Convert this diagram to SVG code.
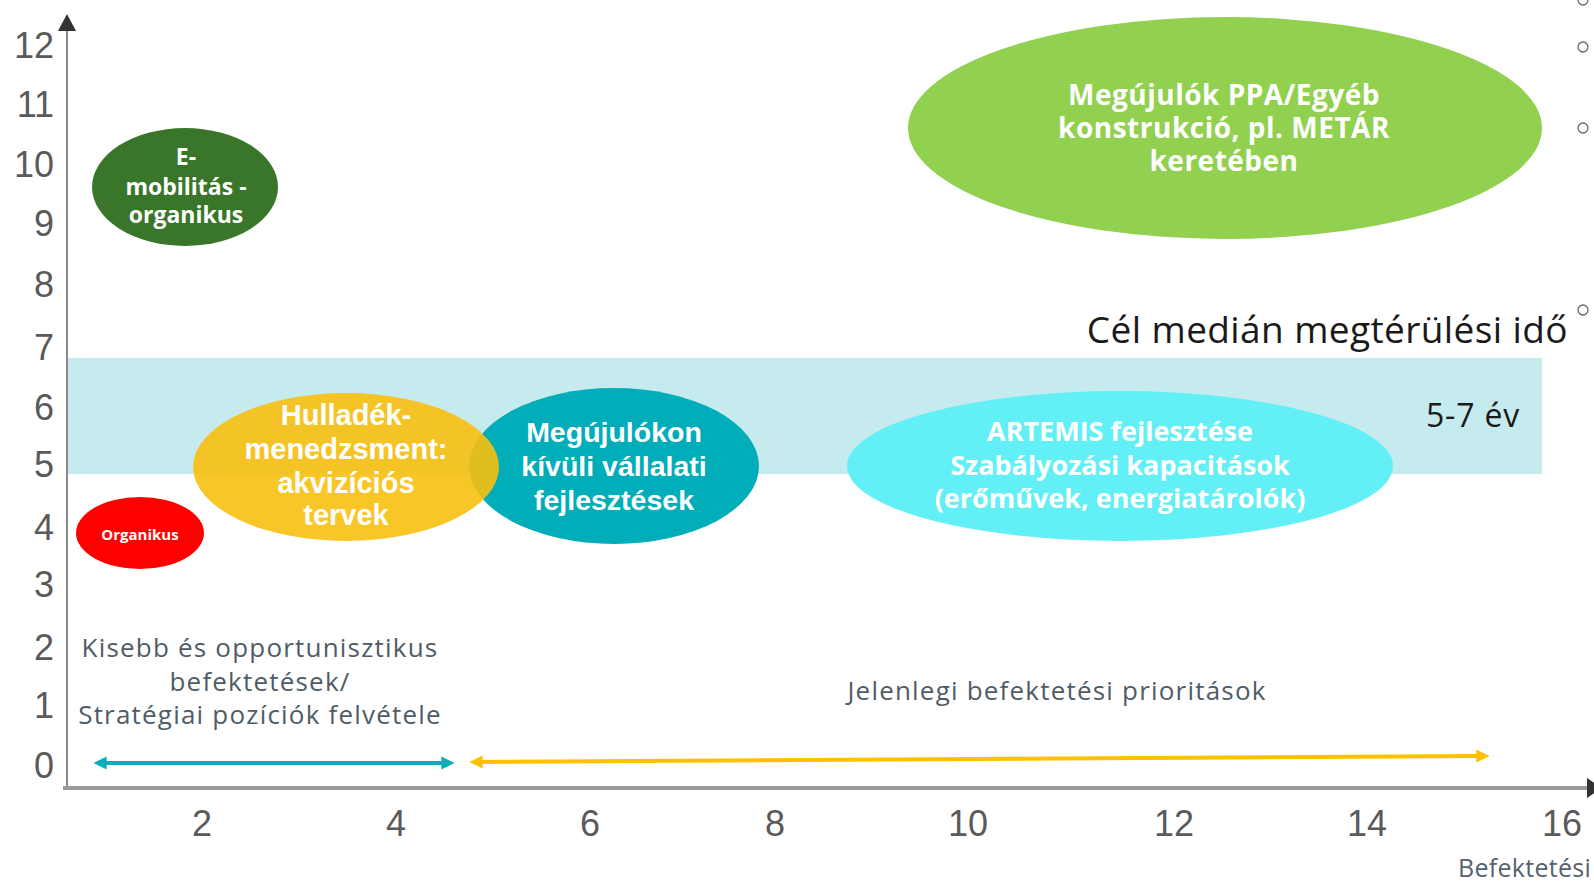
<svg xmlns="http://www.w3.org/2000/svg" width="1594" height="882" viewBox="0 0 1594 882">
<defs>
<style>
.tick{font-family:"Liberation Sans",Arial,sans-serif;font-size:36px;fill:#5a5a5a}
.lbl{font-family:"Open Sans","Noto Sans",sans-serif;fill:#ffffff;font-weight:700;text-anchor:middle}
.nar{font-family:"Liberation Sans",Arial,sans-serif;fill:#ffffff;font-weight:700;text-anchor:middle}
.gray{font-family:"Open Sans","Noto Sans",sans-serif;fill:#4f5c66;text-anchor:middle;letter-spacing:1.2px}
.blk{font-family:"Open Sans","Noto Sans",sans-serif;fill:#1a1a1a}
.bul{fill:none;stroke:#666;stroke-width:1.3}
</style>
<marker id="tealHead" viewBox="0 0 10 10" refX="2" refY="5" markerWidth="3.3" markerHeight="3.3" orient="auto-start-reverse" markerUnits="strokeWidth">
<path d="M0,0 L10,5 L0,10 z" fill="#0aaebb"/>
</marker>
<marker id="yelHead" viewBox="0 0 10 10" refX="2" refY="5" markerWidth="3.3" markerHeight="3.3" orient="auto-start-reverse" markerUnits="strokeWidth">
<path d="M0,0 L10,5 L0,10 z" fill="#ffc000"/>
</marker>
</defs>
<rect width="1594" height="882" fill="#ffffff"/>

<g id="band">
<rect x="67" y="358" width="1475" height="116" fill="#c6ebee"/>
</g>

<g id="axes">
<line x1="67" y1="788" x2="67" y2="28" stroke="#8a8a8a" stroke-width="2"/>
<polygon points="67,14 58,31 76,31" fill="#333"/>
<line x1="63" y1="788" x2="1590" y2="788" stroke="#9a9a9a" stroke-width="4"/>
<polygon points="1587,778 1587,798 1602,788" fill="#333"/>
<g text-anchor="end">
<text class="tick" x="54" y="58">12</text>
<text class="tick" x="54" y="117">11</text>
<text class="tick" x="54" y="177">10</text>
<text class="tick" x="54" y="236">9</text>
<text class="tick" x="54" y="297">8</text>
<text class="tick" x="54" y="360">7</text>
<text class="tick" x="54" y="420">6</text>
<text class="tick" x="54" y="477">5</text>
<text class="tick" x="54" y="540">4</text>
<text class="tick" x="54" y="597">3</text>
<text class="tick" x="54" y="660">2</text>
<text class="tick" x="54" y="718">1</text>
<text class="tick" x="54" y="778">0</text>
</g>
<g text-anchor="middle">
<text class="tick" x="202" y="836">2</text>
<text class="tick" x="396" y="836">4</text>
<text class="tick" x="590" y="836">6</text>
<text class="tick" x="775" y="836">8</text>
<text class="tick" x="968" y="836">10</text>
<text class="tick" x="1174" y="836">12</text>
<text class="tick" x="1367" y="836">14</text>
<text class="tick" x="1562" y="836">16</text>
</g>
<text x="1458" y="877" font-family="Open Sans, Noto Sans, sans-serif" font-size="25" letter-spacing="0.3" fill="#56626c">Befektetési</text>
</g>

<g id="bullets">
<circle class="bul" cx="1583" cy="0" r="5"/>
<circle class="bul" cx="1583" cy="47" r="5"/>
<circle class="bul" cx="1583" cy="128" r="5"/>
<circle class="bul" cx="1583" cy="310" r="5"/>
</g>

<g id="target-label">
<text class="blk" x="1568" y="343" font-size="37" letter-spacing="0.4" text-anchor="end">Cél medián megtérülési idő</text>
<text class="blk" x="1426" y="427" font-size="32" letter-spacing="0.8">5-7 év</text>
</g>

<g id="node-ppa">
<ellipse cx="1225" cy="128" rx="317" ry="111" fill="#92d050"/>
<text class="lbl" font-size="28" letter-spacing="0.5"><tspan x="1224" y="105">Megújulók PPA/Egyéb</tspan><tspan x="1224" y="138">konstrukció, pl. METÁR</tspan><tspan x="1224" y="171">keretében</tspan></text>
</g>

<g id="node-emob">
<ellipse cx="185" cy="187" rx="93" ry="59" fill="#3a7629"/>
<text class="lbl" font-size="23"><tspan x="186" y="165">E-</tspan><tspan x="186" y="195">mobilitás -</tspan><tspan x="186" y="223">organikus</tspan></text>
</g>

<g id="node-org">
<ellipse cx="140" cy="533" rx="64" ry="36" fill="#ff0000"/>
<text class="lbl" x="140" y="540" font-size="15">Organikus</text>
</g>

<g id="node-teal">
<ellipse cx="614" cy="466" rx="145" ry="78" fill="#00adb9"/>
<text class="nar" font-size="28.5"><tspan x="614" y="442">Megújulókon</tspan><tspan x="614" y="476">kívüli vállalati</tspan><tspan x="614" y="510">fejlesztések</tspan></text>
</g>

<g id="node-waste">
<ellipse cx="346" cy="467" rx="153" ry="74" fill="#f8c010" fill-opacity="0.9"/>
<text class="nar" font-size="29"><tspan x="346" y="425">Hulladék-</tspan><tspan x="346" y="459">menedzsment:</tspan><tspan x="346" y="493">akvizíciós</tspan><tspan x="346" y="525">tervek</tspan></text>
</g>

<g id="node-artemis">
<ellipse cx="1120" cy="466" rx="273" ry="75" fill="#62eff5"/>
<text class="lbl" font-size="27" font-weight="600"><tspan x="1120" y="441">ARTEMIS fejlesztése</tspan><tspan x="1120" y="475">Szabályozási kapacitások</tspan><tspan x="1120" y="508">(erőművek, energiatárolók)</tspan></text>
</g>

<g id="labels">
<text class="gray" font-size="26"><tspan x="260" y="657">Kisebb és opportunisztikus</tspan><tspan x="260" y="691">befektetések/</tspan><tspan x="260" y="724">Stratégiai pozíciók felvétele</tspan></text>
<text class="gray" x="1057" y="700" font-size="26">Jelenlegi befektetési prioritások</text>
</g>

<g id="connectors">
<line x1="104" y1="763" x2="444" y2="763" stroke="#0aaebb" stroke-width="4" marker-start="url(#tealHead)" marker-end="url(#tealHead)"/>
<line x1="480" y1="762" x2="1479" y2="756" stroke="#ffc000" stroke-width="4" marker-start="url(#yelHead)" marker-end="url(#yelHead)"/>
</g>
</svg>
